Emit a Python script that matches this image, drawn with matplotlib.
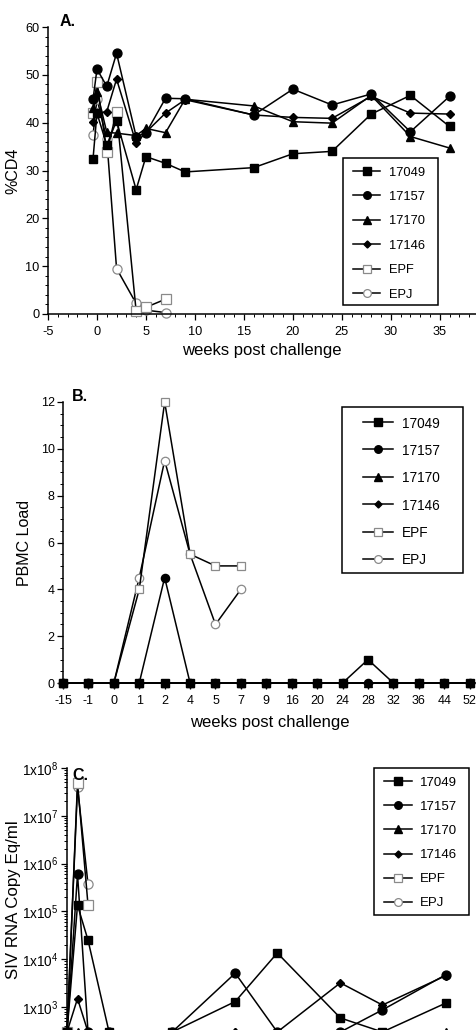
import matplotlib
matplotlib.use("Agg")
import matplotlib.pyplot as plt
from matplotlib.ticker import MultipleLocator, LogLocator, FixedLocator, NullFormatter
from matplotlib.patches import Rectangle
import numpy as np

plt.rcParams['font.family'] = ['Liberation Sans', 'DejaVu Sans']
plt.rcParams['axes.unicode_minus'] = False
plt.rcParams['mathtext.fontset'] = 'custom'
plt.rcParams['mathtext.rm'] = 'Liberation Sans'
plt.rcParams['mathtext.it'] = 'Liberation Sans'

series_names = ["17049", "17157", "17170", "17146", "EPF", "EPJ"]

# ---------------- Panel A: %CD4 ----------------
weeks_A = [-0.4, 0, 1, 2, 4, 5, 7, 9, 16, 20, 24, 28, 32, 36]
cd4_17049 = [32.5, 42.0, 35.3, 40.4, 26.0, 32.9, 31.5, 29.7, 30.6, 33.5, 34.0, 41.8, 45.7, 39.2]
cd4_17157 = [44.9, 51.2, 47.6, 54.5, 37.1, 37.8, 45.1, 45.0, 41.6, 47.0, 43.7, 46.0, 38.1, 45.5]
cd4_17170 = [43.0, 46.5, 38.0, 37.8, 37.3, 38.8, 37.9, 44.9, 43.5, 40.2, 39.9, 45.7, 37.1, 34.7]
cd4_17146 = [40.2, 42.0, 42.3, 49.1, 35.7, 38.0, 42.0, 44.8, 41.6, 41.1, 40.9, 45.5, 42.0, 41.8]
weeks_A_EP = [-0.4, 0, 1, 2, 4, 5, 7]
cd4_EPF = [42.1, 48.6, 33.8, 42.3, 0.6, 1.4, 3.1]
cd4_EPJ = [37.4, 45.0, 36.5, 9.5, 2.2, 0.8, 0.3]

# ---------------- Panel B: PBMC load ----------------
weeks_B_labels = ["-15", "-1", "0", "1", "2", "4", "5", "7", "9", "16", "20", "24", "28", "32", "36", "44", "52"]
pbmc_17049 = [0, 0, 0, 0, 0, 0, 0, 0, 0, 0, 0, 0, 1.0, 0, 0, 0, 0]
pbmc_17157 = [0, 0, 0, 0, 4.5, 0, 0, 0, 0, 0, 0, 0, 0, 0, 0, 0, 0]
pbmc_17170 = [0, 0, 0, 0, 0, 0, 0, 0, 0, 0, 0, 0, 0, 0, 0, 0, 0]
pbmc_17146 = [0, 0, 0, 0, 0, 0, 0, 0, 0, 0, 0, 0, 0, 0, 0, 0, 0]
pbmc_EPF = [0, 0, 0, 4.0, 12.0, 5.5, 5.0, 5.0]
pbmc_EPJ = [0, 0, 0, 4.5, 9.5, 5.5, 2.5, 4.0]

# ---------------- Panel C: SIV RNA ----------------
weeks_C = [0, 2, 4, 8, 20, 32, 40, 52, 60, 72]
rna_17049 = [300, 1.35e5, 2.5e4, 300, 300, 1.3e3, 1.35e4, 590, 300, 1.2e3]
rna_17157 = [300, 6.0e5, 300, 300, 300, 5.1e3, 300, 300, 870, 4.7e3]
rna_17170 = [300, 300, 300, 300, 300, 300, 300, 300, 300, 300]
rna_17146 = [300, 1.5e3, 300, 300, 300, 300, 300, 3.2e3, 1.1e3, 4.5e3]
weeks_C_EP = [0, 2, 4]
rna_EPF = [300, 4.9e7, 1.35e5]
rna_EPJ = [300, 4.0e7, 3.7e5]

W, H = 476, 1030
fig = plt.figure(figsize=(W / 100, H / 100), dpi=100)

def fx(px):
    return px / W

def fy(py):
    return 1 - py / H

GRAY = "#8a8a8a"
styles = {
    "17049": dict(marker="s", ms=6.2, mfc="black", mec="black"),
    "17157": dict(marker="o", ms=6.4, mfc="black", mec="black"),
    "17170": dict(marker="^", ms=6.0, mfc="black", mec="black"),
    "17146": dict(marker="D", ms=4.2, mfc="black", mec="black"),
    "EPF": dict(marker="s", ms=6.6, mfc="white", mec=GRAY, mew=0.9),
    "EPJ": dict(marker="o", ms=6.6, mfc="white", mec=GRAY, mew=0.9),
}

def style_axes(ax, labelsize=9.2, xpad=1.5):
    for s in ["top", "right"]:
        ax.spines[s].set_visible(False)
    for s in ["left", "bottom"]:
        ax.spines[s].set_linewidth(1.1)
    ax.tick_params(which="major", length=4.5, width=0.9, labelsize=labelsize, direction="out", pad=1.5)
    ax.tick_params(axis="x", which="major", pad=xpad)
    ax.tick_params(which="minor", length=2.3, width=0.7, direction="out")

def add_legend(ax, box_px, handle_x0, handle_x1, text_x, first_y, spacing, fontsize, mscale=0.85):
    x0, y0, x1, y1 = box_px
    fig.patches.append(Rectangle((fx(x0), fy(y1)), fx(x1) - fx(x0), fy(y0) - fy(y1),
                                 transform=fig.transFigure, fill=False,
                                 edgecolor="black", linewidth=1.1))
    for i, n in enumerate(series_names):
        yy = fy(first_y + i * spacing)
        st = dict(styles[n])
        st["ms"] = st["ms"] * mscale
        fig.add_artist(plt.Line2D([fx(handle_x0), fx(handle_x1)], [yy, yy],
                                  transform=fig.transFigure, color="black", lw=1.1))
        fig.add_artist(plt.Line2D([fx((handle_x0 + handle_x1) / 2)], [yy],
                                  transform=fig.transFigure, color="black", lw=0, **st))
        fig.text(fx(text_x), yy, n, fontsize=fontsize, ha="left", va="center_baseline")

# ---------- Panel A ----------
axA = fig.add_axes([fx(48), fy(314), fx(476) - fx(48), fy(27) - fy(314)])
for name, xs, ys in [("EPJ", weeks_A_EP, cd4_EPJ), ("EPF", weeks_A_EP, cd4_EPF),
                     ("17049", weeks_A, cd4_17049), ("17170", weeks_A, cd4_17170),
                     ("17146", weeks_A, cd4_17146), ("17157", weeks_A, cd4_17157)]:
    axA.plot(xs, ys, color="black", lw=1.1, clip_on=False, **styles[name])
axA.set_xlim(-5, 38.7)
axA.set_ylim(0, 60)
axA.xaxis.set_major_locator(FixedLocator([-5, 0, 5, 10, 15, 20, 25, 30, 35]))
axA.xaxis.set_minor_locator(MultipleLocator(1))
axA.yaxis.set_major_locator(MultipleLocator(10))
axA.yaxis.set_minor_locator(MultipleLocator(2))
style_axes(axA, xpad=4)
axA.set_xlabel("weeks post challenge", fontsize=12, labelpad=3.5)
axA.set_ylabel("%CD4", fontsize=11.5, labelpad=3.5)
fig.text(fx(60), fy(26), "A.", fontsize=11.5, fontweight="bold", ha="left", va="baseline")
add_legend(axA, (343, 158, 438, 305), 353, 380, 389, 171, 24.4, 9.3)

# ---------- Panel B ----------
axB = fig.add_axes([fx(63), fy(683), fx(476) - fx(63), fy(402) - fy(683)])
idx = np.arange(len(weeks_B_labels))
for name, ys in [("EPJ", pbmc_EPJ), ("EPF", pbmc_EPF), ("17146", pbmc_17146),
                 ("17170", pbmc_17170), ("17157", pbmc_17157), ("17049", pbmc_17049)]:
    st = dict(styles[name])
    st["ms"] = st["ms"] * 0.92
    axB.plot(idx[:len(ys)], ys, color="black", lw=1.1, clip_on=False, **st)
axB.set_xlim(0, 16.25)
axB.set_ylim(0, 12)
axB.set_xticks(idx)
axB.set_xticklabels(weeks_B_labels)
axB.yaxis.set_major_locator(MultipleLocator(2))
axB.yaxis.set_minor_locator(MultipleLocator(0.5))
style_axes(axB, labelsize=9, xpad=4)
axB.set_xlabel("weeks post challenge", fontsize=12, labelpad=6)
axB.set_ylabel("PBMC Load", fontsize=11.5, labelpad=6)
fig.text(fx(72), fy(401), "B.", fontsize=11.5, fontweight="bold", ha="left", va="baseline")
add_legend(axB, (342, 407, 463, 573), 363, 393, 402, 422, 27.4, 9.8)

# ---------- Panel C ----------
axC = fig.add_axes([fx(67), fy(1032), fx(476) - fx(67), fy(768) - fy(1032)])
for name, xs, ys in [("EPJ", weeks_C_EP, rna_EPJ), ("EPF", weeks_C_EP, rna_EPF),
                     ("17170", weeks_C, rna_17170), ("17146", weeks_C, rna_17146),
                     ("17049", weeks_C, rna_17049), ("17157", weeks_C, rna_17157)]:
    axC.plot(xs, ys, color="black", lw=1.1, clip_on=False, **styles[name])
axC.set_yscale("log")
axC.set_xlim(0, 77.8)
axC.set_ylim(300, 1e8)
axC.yaxis.set_major_locator(FixedLocator([1e3, 1e4, 1e5, 1e6, 1e7, 1e8]))
axC.yaxis.set_minor_locator(LogLocator(base=10, subs=np.arange(2, 10)))
axC.yaxis.set_minor_formatter(NullFormatter())
axC.set_yticklabels([r"1x10$^{%d}$" % e for e in range(3, 9)])
style_axes(axC, labelsize=9.8)
axC.spines["bottom"].set_visible(False)
axC.tick_params(axis="x", bottom=False, labelbottom=False)
axC.set_ylabel("SIV RNA Copy Eq/ml", fontsize=12.2, labelpad=0.5)
fig.text(fx(72), fy(780), "C.", fontsize=11.5, fontweight="bold", ha="left", va="baseline")
add_legend(axC, (374, 768, 469, 915), 384, 412, 420, 781, 24.2, 9.5)

fig.savefig("out.png", dpi=100)
